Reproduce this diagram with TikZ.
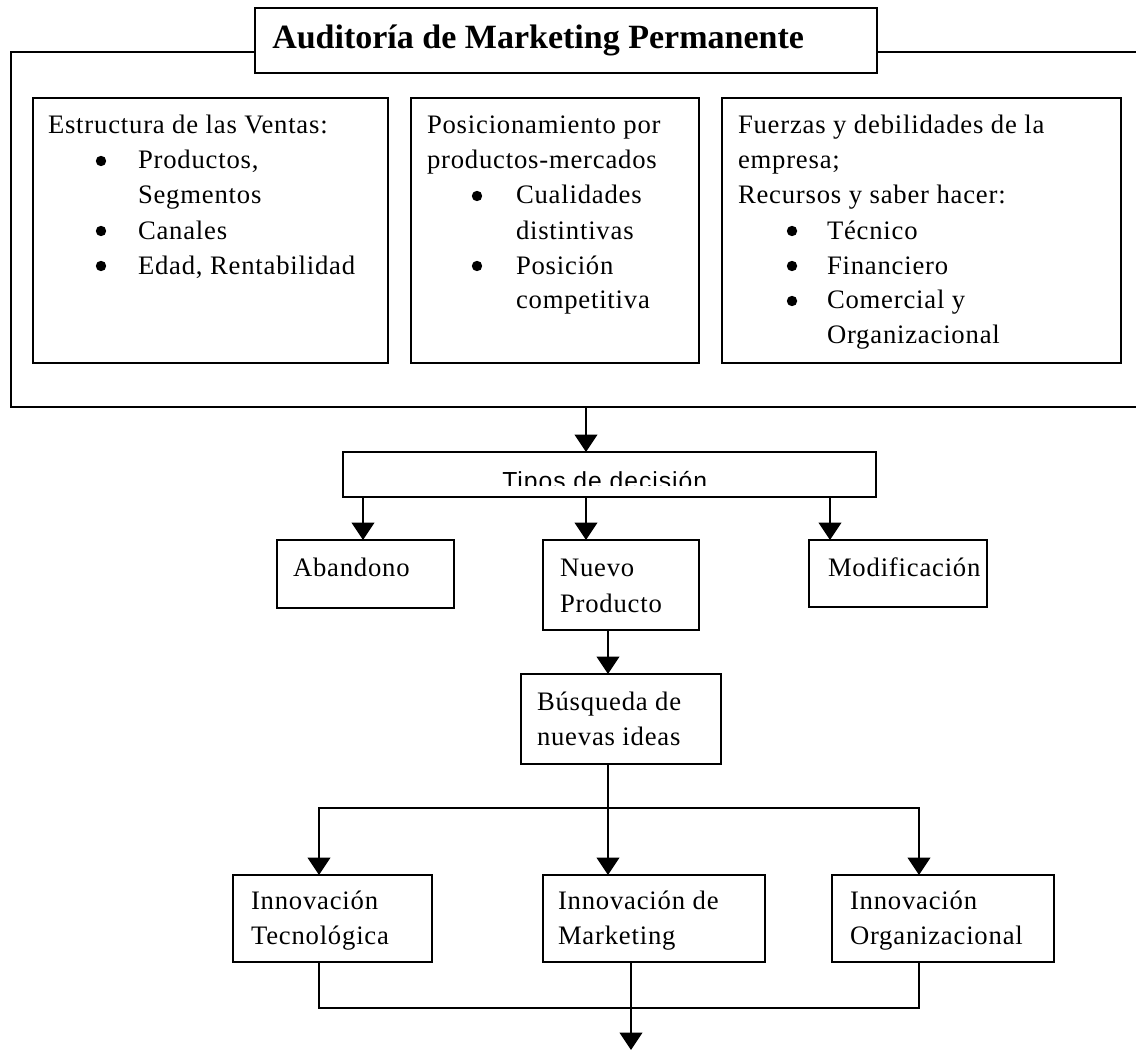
\documentclass[tikz,border=0pt]{standalone}
\usepackage{fontspec}
\setmainfont{Liberation Serif}
\newfontfamily\bodyfont[LetterSpace=3]{Liberation Serif}
\newfontfamily\tiposfont[LetterSpace=4]{Liberation Sans}
\usetikzlibrary{arrows.meta}
\newcommand\pxu{0.75pt}
% box: name, x, y (top left), width, height
\newcommand\boxat[5]{\node[box, minimum width=#4*\pxu, minimum height=#5*\pxu] (#1) at (#2,#3) {};}
\newcommand\dotat[2]{\fill (#1,#2) circle[radius=3.9pt];}
\begin{document}
\begin{tikzpicture}[x=0.75pt,y=-0.75pt,
  box/.style={draw, line width=1.4pt, fill=white, inner sep=0pt, outer sep=0pt, anchor=north west},
  lbl/.style={anchor=base west, inner sep=0pt, outer sep=0pt, font=\bodyfont\fontsize{20}{24}\selectfont},
  conn/.style={line width=1.1pt},
  arr/.style={conn, -{Triangle[width=17pt,length=13pt]}},
]
\useasboundingbox (0,0) rectangle (1136,1052);
\clip (0,0) rectangle (1136,1052);
\fill[white] (0,0) rectangle (1136,1052);

% frame of the audit block and its title
\boxat{outer}{11}{52}{1139}{355}
\boxat{title}{255}{8}{622}{65}
\node[anchor=base west, inner sep=0pt, font=\fontsize{25.5}{30}\selectfont\bfseries] (titletext) at (272,49) {Auditoría de Marketing Permanente};

% three analysis blocks
\boxat{b1}{33}{98}{355}{265}
\boxat{b2}{411}{98}{288}{265}
\boxat{b3}{722}{98}{399}{265}

\node[lbl] (s1) at (48,134) {Estructura de las Ventas:};
\node[lbl] (s2) at (138,169) {Productos,};
\node[lbl] (s3) at (138,204) {Segmentos};
\node[lbl] (s4) at (138,239) {Canales};
\node[lbl] (s5) at (138,274) {Edad, Rentabilidad};
\dotat{101}{161}\dotat{101}{231}\dotat{101}{266}

\node[lbl] (p1) at (427,134) {Posicionamiento por};
\node[lbl] (p2) at (427,169) {productos-mercados};
\node[lbl] (p3) at (516,204) {Cualidades};
\node[lbl] (p4) at (516,239) {distintivas};
\node[lbl] (p5) at (516,274) {Posición};
\node[lbl] (p6) at (516,309) {competitiva};
\dotat{477}{196}\dotat{477}{266}

\node[lbl] (f1) at (738,134) {Fuerzas y debilidades de la};
\node[lbl] (f2) at (738,169) {empresa;};
\node[lbl] (f3) at (738,204) {Recursos y saber hacer:};
\node[lbl] (f4) at (827,239) {Técnico};
\node[lbl] (f5) at (827,274) {Financiero};
\node[lbl] (f6) at (827,309) {Comercial y};
\node[lbl] (f7) at (827,344) {Organizacional};
\dotat{792}{231}\dotat{792}{266}\dotat{792}{301}

% decision bar (its label is cut by the box)
\boxat{tipos}{343}{452}{533}{45}
\begin{scope}
  \clip (343,452) rectangle (876,485);
  \node[anchor=base west, inner sep=0pt, font=\tiposfont\fontsize{18.5}{22}\selectfont] (tipostext) at (502,489) {Tipos de decisión};
\end{scope}

% decision options
\boxat{aband}{277}{540}{177}{68}
\boxat{nuevo}{543}{540}{156}{90}
\boxat{modif}{809}{540}{178}{67}
\node[lbl] (ab) at (293,576) {Abandono};
\node[lbl] (nv1) at (560,576) {Nuevo};
\node[lbl] (nv2) at (560,612) {Producto};
\node[lbl] (md) at (828,576) {Modificación};

% idea search
\boxat{busq}{521}{674}{200}{90}
\node[lbl] (bq1) at (537,710) {Búsqueda de};
\node[lbl] (bq2) at (537,745) {nuevas ideas};

% innovation kinds
\boxat{tec}{233}{875}{199}{87}
\boxat{mkt}{543}{875}{222}{87}
\boxat{org}{832}{875}{222}{87}
\node[lbl] (tc1) at (251,909) {Innovación};
\node[lbl] (tc2) at (251,944) {Tecnológica};
\node[lbl] (mk1) at (558,909) {Innovación de};
\node[lbl] (mk2) at (558,944) {Marketing};
\node[lbl] (og1) at (850,909) {Innovación};
\node[lbl] (og2) at (850,944) {Organizacional};

% connector columns
\coordinate (xa) at (586,0);
\coordinate (xb) at (363,0);
\coordinate (xc) at (830,0);
\coordinate (xd) at (608,0);
\coordinate (xe) at (319,0);
\coordinate (xf) at (919,0);
\coordinate (j) at (608,808);
\coordinate (k) at (631,1008);
\coordinate (out) at (631,1050);

\draw[arr] (outer.south -| xa) -- (tipos.north -| xa);
\draw[arr] (tipos.south -| xb) -- (aband.north -| xb);
\draw[arr] (tipos.south -| xa) -- (nuevo.north -| xa);
\draw[arr] (tipos.south -| xc) -- (modif.north -| xc);
\draw[arr] (nuevo.south -| xd) -- (busq.north -| xd);
\draw[conn] (busq.south -| j) -- (j);
\draw[arr] (j) -| (tec.north -| xe);
\draw[arr] (j) -- (mkt.north -| j);
\draw[arr] (j) -| (org.north -| xf);
\draw[conn] (tec.south -| xe) |- (k) -| (org.south -| xf);
\draw[arr] (mkt.south -| k) -- (out);
\end{tikzpicture}
\end{document}
